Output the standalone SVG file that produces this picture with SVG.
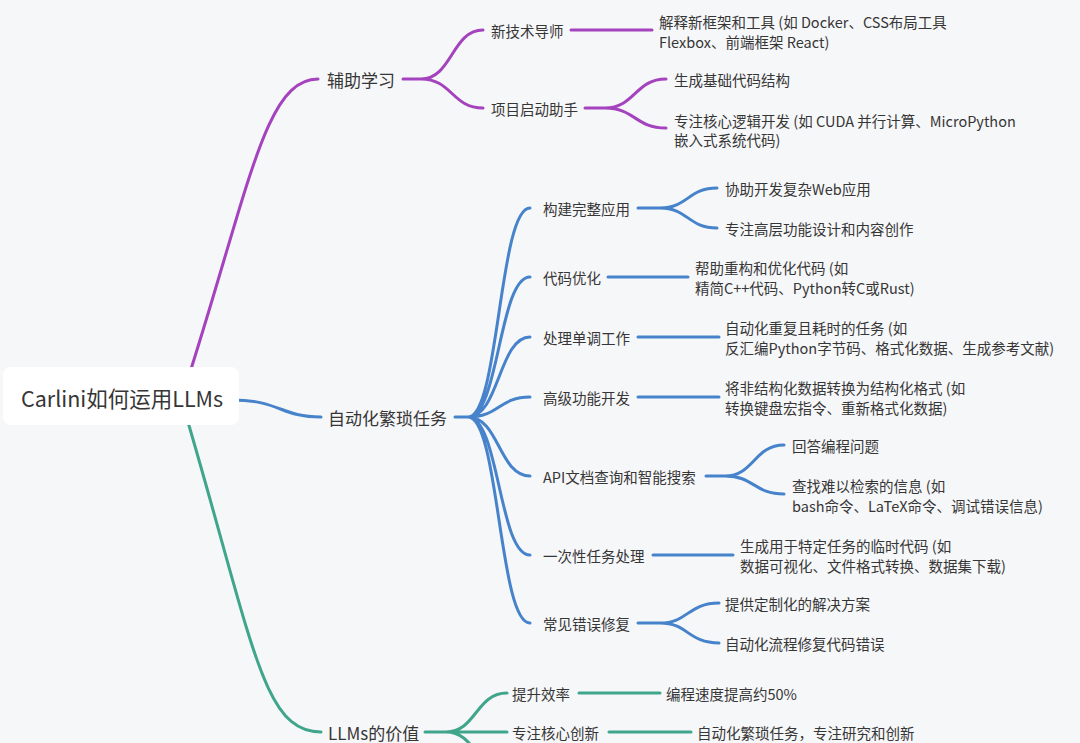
<svg xmlns="http://www.w3.org/2000/svg" width="1080" height="743" viewBox="0 0 1080 743">
<style>
text{font-family:"Noto Sans CJK SC","Noto Sans",sans-serif;fill:#363636;dominant-baseline:central}
.l1{font-size:17px}
.l2{font-size:14.5px}
.root{font-size:21.5px}
.c{fill:none;stroke-width:3;stroke-linecap:round}
.m{stroke:#a443bd}
.b{stroke:#4683cb}
.g{stroke:#3fa58b}
</style>
<rect x="0" y="0" width="1080" height="743" fill="#f6f7f9"/>
<g id="connectors">
<path class="c m" d="M186,385 C250,185 265,79 318,79"/>
<path class="c b" d="M232,400 C280,400 280,417 321,417"/>
<path class="c g" d="M183,405 C254,645 262,732 321,732"/>
<path class="c m" d="M403,79 H421 M421,79 C452,79 452,30 483,30 M421,79 C452,79 452,108 483,108"/>
<path class="c m" d="M571,30 H652"/>
<path class="c m" d="M585,108 H605 M605,108 C635,108 635,79 666,79 M605,108 C635,108 635,128 666,128"/>
<path class="c b" d="M455,417 H468 M468,417 C499,417 499,208 530,208 M468,417 C499,417 499,277 530,277 M468,417 C499,417 499,337 530,337 M468,417 C499,417 499,397 530,397 M468,417 C499,417 499,476 530,476 M468,417 C499,417 499,555 530,555 M468,417 C499,417 499,623 530,623"/>
<path class="c b" d="M638,208 H660 M660,208 C688,208 688,188 717,188 M660,208 C688,208 688,228 717,228"/>
<path class="c b" d="M608,277 H688"/>
<path class="c b" d="M638,337 H719"/>
<path class="c b" d="M638,397 H719"/>
<path class="c b" d="M706,476 H725 M725,476 C754,476 754,445 784,445 M725,476 C754,476 754,494 784,494"/>
<path class="c b" d="M653,555 H733"/>
<path class="c b" d="M638,623 H660 M660,623 C688,623 688,603 719,603 M660,623 C688,623 688,643 719,643"/>
<path class="c g" d="M425,732 H446 M446,732 C476,732 476,693 507,693 M446,732 H507 M446,732 C476,732 476,771 507,771"/>
<path class="c g" d="M579,693 H660"/>
<path class="c g" d="M609,732 H691"/>
</g>
<g id="root">
<rect x="3" y="367" width="236" height="58" rx="8" fill="#ffffff"/>
<text class="root" x="21" y="397">Carlini如何运用LLMs</text>
</g>
<g id="n-fuzhu"><text class="l1" x="327" y="79">辅助学习</text></g>
<g id="n-zidong"><text class="l1" x="328" y="417">自动化繁琐任务</text></g>
<g id="n-jiazhi"><text class="l1" x="328" y="732">LLMs的价值</text></g>
<g id="n-xinjishu"><text class="l2" x="491" y="30">新技术导师</text></g>
<g id="n-jieshi"><text class="l2" x="659" y="21">解释新框架和工具 (如 Docker、CSS布局工具</text><text class="l2" x="659" y="41">Flexbox、前端框架 React)</text></g>
<g id="n-xiangmu"><text class="l2" x="491" y="108">项目启动助手</text></g>
<g id="n-shengcheng"><text class="l2" x="674" y="79">生成基础代码结构</text></g>
<g id="n-zhuanzhu1"><text class="l2" x="674" y="120">专注核心逻辑开发 (如 CUDA 并行计算、MicroPython</text><text class="l2" x="674" y="139">嵌入式系统代码)</text></g>
<g id="n-goujian"><text class="l2" x="543" y="208">构建完整应用</text></g>
<g id="n-xiezhu"><text class="l2" x="725" y="188">协助开发复杂Web应用</text></g>
<g id="n-gaoceng"><text class="l2" x="725" y="228">专注高层功能设计和内容创作</text></g>
<g id="n-youhua"><text class="l2" x="543" y="277">代码优化</text></g>
<g id="n-bangzhu"><text class="l2" x="695" y="267">帮助重构和优化代码 (如</text><text class="l2" x="695" y="287">精简C++代码、Python转C或Rust)</text></g>
<g id="n-dantiao"><text class="l2" x="543" y="337">处理单调工作</text></g>
<g id="n-chongfu"><text class="l2" x="725" y="327">自动化重复且耗时的任务 (如</text><text class="l2" x="725" y="347">反汇编Python字节码、格式化数据、生成参考文献)</text></g>
<g id="n-gaoji"><text class="l2" x="543" y="397">高级功能开发</text></g>
<g id="n-feijiegou"><text class="l2" x="725" y="387">将非结构化数据转换为结构化格式 (如</text><text class="l2" x="725" y="407">转换键盘宏指令、重新格式化数据)</text></g>
<g id="n-api"><text class="l2" x="543" y="476">API文档查询和智能搜索</text></g>
<g id="n-huida"><text class="l2" x="792" y="445">回答编程问题</text></g>
<g id="n-chazhao"><text class="l2" x="792" y="485">查找难以检索的信息 (如</text><text class="l2" x="792" y="505">bash命令、LaTeX命令、调试错误信息)</text></g>
<g id="n-yicixing"><text class="l2" x="543" y="555">一次性任务处理</text></g>
<g id="n-linshi"><text class="l2" x="740" y="545">生成用于特定任务的临时代码 (如</text><text class="l2" x="740" y="565">数据可视化、文件格式转换、数据集下载)</text></g>
<g id="n-cuowu"><text class="l2" x="543" y="623">常见错误修复</text></g>
<g id="n-tigong"><text class="l2" x="725" y="603">提供定制化的解决方案</text></g>
<g id="n-liucheng"><text class="l2" x="725" y="643">自动化流程修复代码错误</text></g>
<g id="n-xiaolv"><text class="l2" x="512" y="693">提升效率</text></g>
<g id="n-sudu"><text class="l2" x="666" y="693">编程速度提高约50%</text></g>
<g id="n-chuangxin"><text class="l2" x="512" y="732">专注核心创新</text></g>
<g id="n-yanjiu"><text class="l2" x="697" y="732">自动化繁琐任务，专注研究和创新</text></g>
</svg>
